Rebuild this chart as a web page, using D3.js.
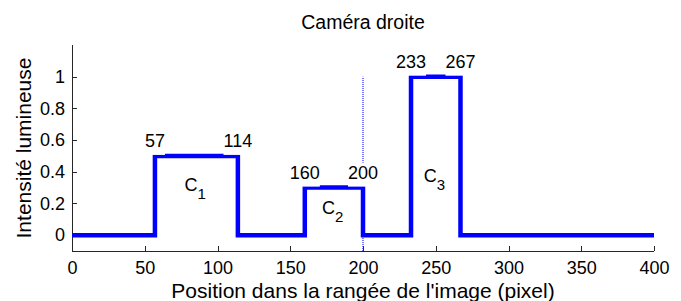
<!DOCTYPE html>
<html>
<head>
<meta charset="utf-8">
<script src="https://cdn.jsdelivr.net/npm/d3@7"></script>
<style>
  body { margin: 0; background: #fff; }
  svg text { font-family: Arial, "Liberation Sans", sans-serif; fill: #000; }
  .axis path, .axis line { stroke: #262626; shape-rendering: crispEdges; }
  .axis text { font-size: 18px; }
</style>
</head>
<body>
<script>
'use strict';

// step profile: each rectangle starts / ends at a pixel position with a given intensity
const edge_start = [57, 160, 233];
const edge_end = [114, 200, 267];
const levels = [0.5, 0.3, 1];
const region_names = ['1', '2', '3'];
const region_label_y = [0.276, 0.136, 0.333];
const x_ticks = [0, 50, 100, 150, 200, 250, 300, 350, 400];
const y_ticks = [0, 0.2, 0.4, 0.6, 0.8, 1];
const x_domain = [0, 400], y_domain = [-0.1, 1.2];
const marker_x = 200, marker_range = [-0.1, 1];

const width = 681, height = 301;
const margin = {top: 45, right: 27, bottom: 50, left: 72};

const svg = d3.select('body').append('svg')
    .attr('width', width)
    .attr('height', height);

const xScale = d3.scaleLinear().domain(x_domain).range([margin.left, width - margin.right]);
const yScale = d3.scaleLinear().domain(y_domain).range([height - margin.bottom, margin.top]);

// build the polyline from the rectangles
const points = [[x_domain[0], 0]];
edge_start.forEach((s, i) => {
    points.push([s, 0], [s, levels[i]], [edge_end[i], levels[i]], [edge_end[i], 0]);
});
points.push([x_domain[1], 0]);

const fmt = d3.format('~g');
const xAxis = d3.axisBottom(xScale).tickValues(x_ticks).tickFormat(fmt).tickSizeInner(-5).tickSizeOuter(0).tickPadding(8);
const yAxis = d3.axisLeft(yScale).tickValues(y_ticks).tickFormat(fmt).tickSizeInner(-5).tickSizeOuter(0).tickPadding(7);

svg.append('g')
    .attr('class', 'axis x-axis')
    .attr('transform', `translate(0,${yScale(y_domain[0])})`)
    .call(xAxis)
    .call(g => g.select('.domain').attr('d', `M${xScale(x_domain[0])},0H${xScale(x_domain[1])}`));
svg.append('g')
    .attr('class', 'axis y-axis')
    .attr('transform', `translate(${xScale(x_domain[0])},0)`)
    .call(yAxis)
    .call(g => g.select('.domain').attr('d', `M0,${yScale(y_domain[0])}V${yScale(y_domain[1])}`));

svg.selectAll('.axis .tick text').attr('fill', '#000');
svg.selectAll('.x-axis .tick text').attr('dy', '0.85em');

// dotted marker
svg.append('line')
    .attr('x1', xScale(marker_x)).attr('x2', xScale(marker_x))
    .attr('y1', yScale(marker_range[0])).attr('y2', yScale(marker_range[1]))
    .attr('stroke', '#2222ff')
    .attr('stroke-width', 1.2)
    .attr('stroke-dasharray', '1,1');

const line = d3.line().x(d => xScale(d[0])).y(d => yScale(d[1]));
svg.append('path')
    .datum(points)
    .attr('d', line)
    .attr('fill', 'none')
    .attr('stroke', '#0000ff')
    .attr('stroke-width', 4.5)
    .attr('stroke-linejoin', 'miter');

// edge value labels
const edge_labels = [];
edge_start.forEach((s, i) => {
    edge_labels.push({x: s, y: levels[i]}, {x: edge_end[i], y: levels[i]});
});
const lab = svg.selectAll('.edge-label').data(edge_labels).enter().append('g')
    .attr('class', 'edge-label');
lab.append('text')
    .attr('x', d => xScale(d.x))
    .attr('y', d => yScale(d.y) - 9)
    .attr('text-anchor', 'middle')
    .attr('font-size', 18)
    .text(d => d.x);
lab.each(function () {
    const b = d3.select(this).select('text').node().getBBox();
    d3.select(this).insert('rect', 'text')
        .attr('x', b.x).attr('y', b.y).attr('width', b.width).attr('height', b.height + 4)
        .attr('fill', '#fff');
});

// region names C1..C3
const regions = svg.selectAll('.region').data(region_names).enter().append('text')
    .attr('class', 'region')
    .attr('x', (d, i) => xScale((edge_start[i] + edge_end[i]) / 2) - 12)
    .attr('y', (d, i) => yScale(region_label_y[i]))
    .attr('font-size', 18);
regions.append('tspan').text('C');
regions.append('tspan').attr('dy', 8).attr('font-size', 15).text(d => d);

svg.append('text')
    .attr('x', (xScale.range()[0] + xScale.range()[1]) / 2)
    .attr('y', 29)
    .attr('text-anchor', 'middle')
    .attr('font-size', 19.5)
    .text('Caméra droite');

svg.append('text')
    .attr('x', (xScale.range()[0] + xScale.range()[1]) / 2)
    .attr('y', 298)
    .attr('text-anchor', 'middle')
    .attr('font-size', 21)
    .text("Position dans la rangée de l'image (pixel)");

svg.append('text')
    .attr('transform', `translate(31,${(yScale.range()[0] + yScale.range()[1]) / 2}) rotate(-90)`)
    .attr('text-anchor', 'middle')
    .attr('font-size', 21)
    .text('Intensité lumineuse');
</script>
</body>
</html>
